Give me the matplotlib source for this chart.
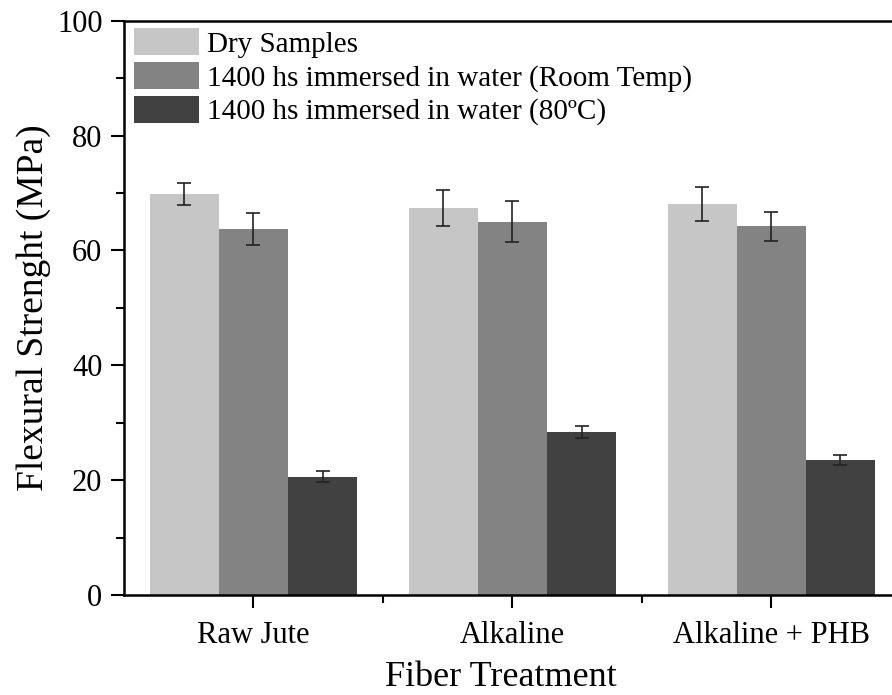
import matplotlib
matplotlib.use("Agg")
import matplotlib.pyplot as plt
import numpy as np
from matplotlib.ticker import MultipleLocator, FixedLocator

plt.rcParams['font.family'] = ['Liberation Serif', 'DejaVu Serif']

categories = ["Raw Jute", "Alkaline", "Alkaline + PHB"]
series_labels = ["Dry Samples",
                 "1400 hs immersed in water (Room Temp)",
                 "1400 hs immersed in water (80ºC)"]
dry = [69.9, 67.4, 68.1]
dry_err = [1.9, 3.2, 3.0]
room = [63.7, 65.0, 64.2]
room_err = [2.8, 3.6, 2.5]
hot = [20.6, 28.4, 23.5]
hot_err = [1.0, 1.05, 0.8]
colors = ["#c6c6c6", "#838383", "#414141"]

fig = plt.figure(figsize=(8.92, 6.95), dpi=100)
ax = fig.add_axes([0.139, 0.144, 0.871, 0.826])

x = np.arange(len(categories))
w = 0.8 / 3
for i, (vals, errs) in enumerate([(dry, dry_err), (room, room_err), (hot, hot_err)]):
    ax.bar(x + (i - 1) * w, vals, w, color=colors[i], label=series_labels[i],
           yerr=errs, capsize=5, error_kw=dict(ecolor='#222222', elinewidth=1.2, capthick=1.2),
           zorder=2)

ax.set_xlim(-0.5, 2.5)
ax.set_ylim(0, 100)
ax.set_xticks(x)
ax.set_xticklabels(categories, fontsize=22)
ax.xaxis.set_minor_locator(FixedLocator([0.5, 1.5]))
ax.yaxis.set_major_locator(MultipleLocator(20))
ax.yaxis.set_minor_locator(MultipleLocator(10))
ax.tick_params(axis='both', which='major', direction='out', length=9.5, width=1.5, labelsize=22, pad=6)
ax.tick_params(axis='x', which='major', pad=9)
ax.tick_params(axis='both', which='minor', direction='out', length=6, width=1.5)
for s in ax.spines.values():
    s.set_linewidth(1.8)

ax.set_ylabel("Flexural Strenght (MPa)", fontsize=27, labelpad=4)
ax.set_xlabel("Fiber Treatment", fontsize=26)
ax.xaxis.set_label_coords(0.485, -0.115)

ax.legend(loc='upper left', bbox_to_anchor=(0.004, 1.0), frameon=False, fontsize=21,
          handlelength=2.2, handleheight=1.05, labelspacing=0.14, handletextpad=0.3,
          borderaxespad=0.05, borderpad=0.2)

fig.savefig("out.png", dpi=100)
